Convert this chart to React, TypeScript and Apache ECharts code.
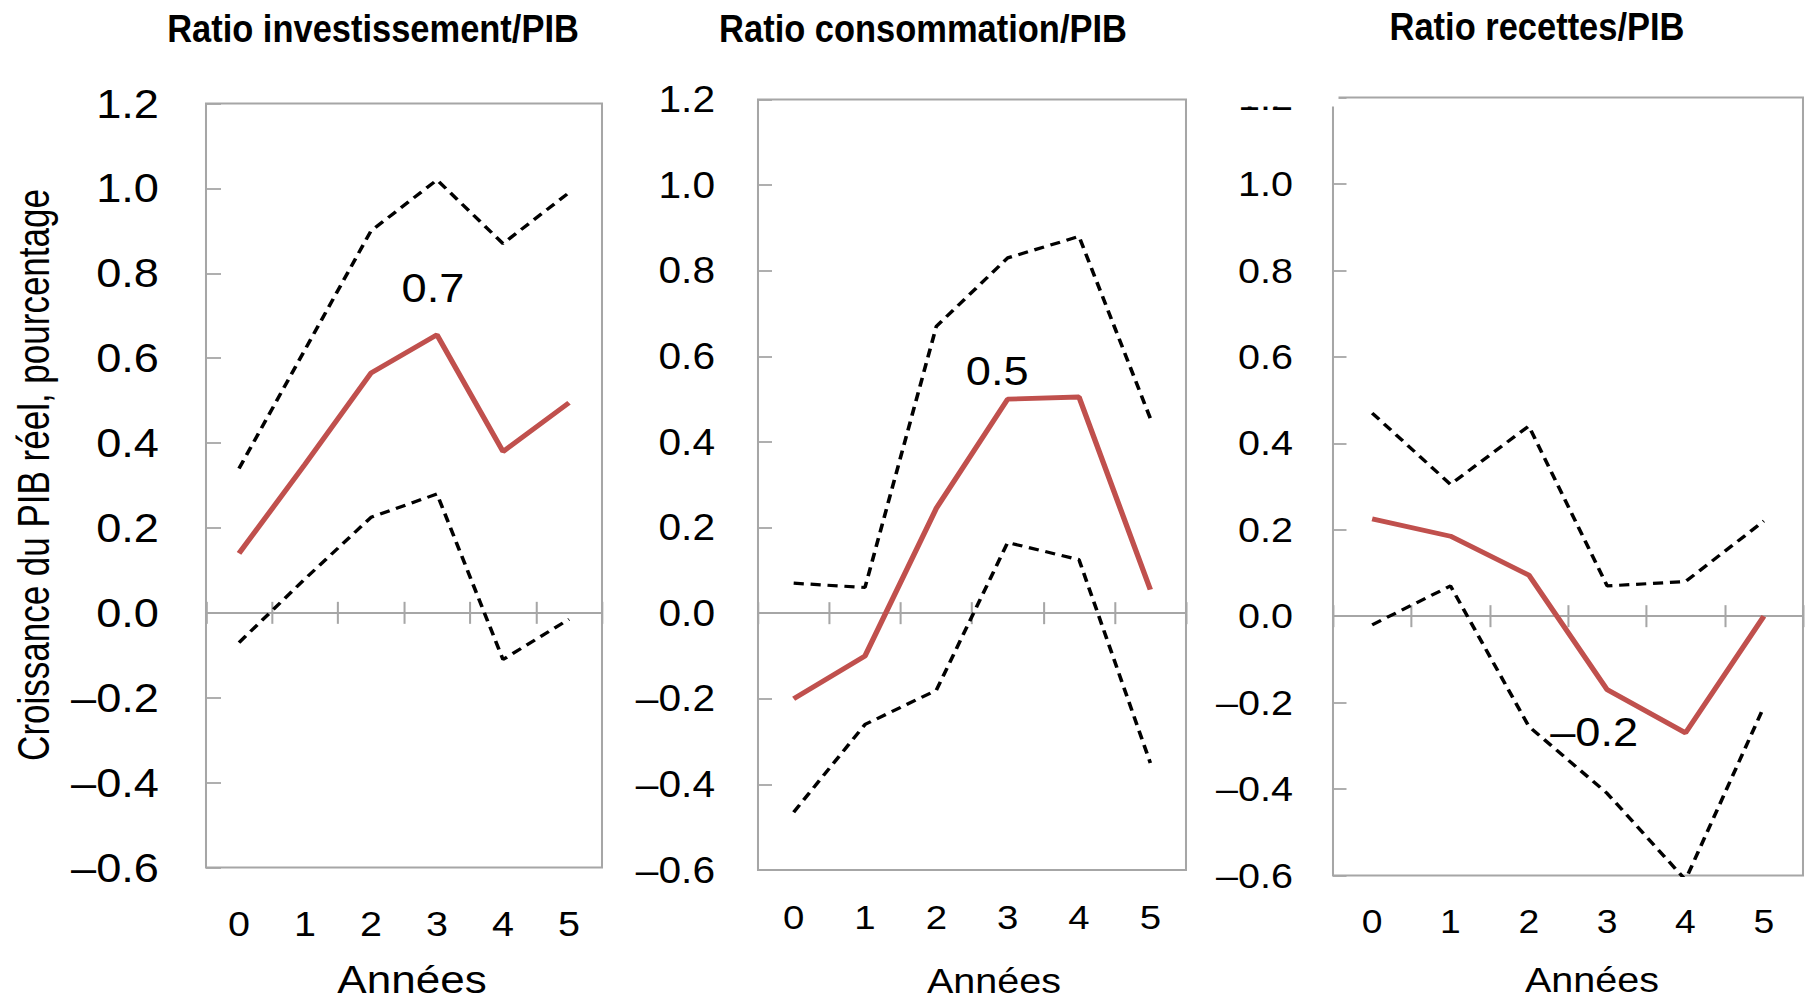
import React, { useEffect, useRef } from 'react';
import * as echarts from 'echarts';

// ---------- data ----------
const years = ['0', '1', '2', '3', '4', '5'];
const panelTitles = ['Ratio investissement/PIB', 'Ratio consommation/PIB', 'Ratio recettes/PIB'];
const yAxisTitle = 'Croissance du PIB réel, pourcentage';
const xAxisTitle = 'Années';
const yMin = -0.6;
const yMax = 1.2;
const yStep = 0.2;

const investMid = [0.14, 0.35, 0.565, 0.655, 0.38, 0.495];
const investUpper = [0.34, 0.62, 0.9, 1.02, 0.87, 0.99];
const investLower = [-0.07, 0.08, 0.225, 0.28, -0.11, -0.015];

const consoMid = [-0.2, -0.1, 0.245, 0.5, 0.505, 0.055];
const consoUpper = [0.07, 0.06, 0.67, 0.83, 0.88, 0.455];
const consoLower = [-0.465, -0.26, -0.18, 0.165, 0.125, -0.35];

const recMid = [0.225, 0.185, 0.095, -0.17, -0.27, 0.0];
const recUpper = [0.47, 0.305, 0.44, 0.07, 0.08, 0.22];
const recLower = [-0.02, 0.07, -0.255, -0.41, -0.61, -0.21];

const noteTexts = ['0.7', '0.5', '–0.2'];
const noteYears = ['3', '3', '3'];
const noteValues = [0.765, 0.566, -0.269];

const midSeries = [investMid, consoMid, recMid];
const upperSeries = [investUpper, consoUpper, recUpper];
const lowerSeries = [investLower, consoLower, recLower];

// ---------- layout / style ----------
const S = 1.13; // horizontal stretch of the picture
const W0 = Math.ceil(1806 / S);
const FONT = "'Liberation Sans', Arial, sans-serif";
const GRAY = '#a6a6a6';
const RED = '#c0504d';

const layout = [
  { left: 206, top: 103.5, width: 396, height: 764, yFont: 40, xFont: 35, yMargin: 47, xMargin: 39, tick: 15,
    titleX: 373, titleY: 28.5, nameX: 412, nameY: 979, nameFont: 39, noteDx: -4 },
  { left: 758, top: 99.5, width: 428, height: 770.5, yFont: 36, xFont: 34, yMargin: 43, xMargin: 30, tick: 14,
    titleX: 923, titleY: 28.5, nameX: 994, nameY: 981, nameFont: 35, noteDx: -10.5 },
  { left: 1333, top: 97.5, width: 470, height: 778, yFont: 35, xFont: 33, yMargin: 40, xMargin: 29, tick: 13.5,
    titleX: 1537, titleY: 26.5, nameX: 1592, nameY: 980, nameFont: 35, noteDx: -13 },
];

const fmt = (v: number) => {
  const r = Math.round(v * 10) / 10;
  if (Math.abs(r) < 1e-9) return '0.0';
  return (r < 0 ? '–' : '') + Math.abs(r).toFixed(1);
};

function buildOption() {
  const grid: any[] = [];
  const xAxis: any[] = [];
  const yAxis: any[] = [];
  const series: any[] = [];
  const graphic: any[] = [];

  layout.forEach((L, p) => {
    grid.push({
      left: L.left / S, top: L.top, width: L.width / S, height: L.height,
      show: true, borderColor: GRAY, borderWidth: 1.8, backgroundColor: 'transparent',
    });
    yAxis.push({
      gridIndex: p, type: 'value', min: yMin, max: yMax, interval: yStep,
      axisLine: { show: false },
      axisTick: { show: true, inside: true, length: L.tick / S, lineStyle: { color: GRAY, width: 1.8 } },
      axisLabel: { fontSize: L.yFont, color: '#000', fontFamily: FONT, margin: L.yMargin / S, formatter: fmt },
      splitLine: { show: false },
    });
    // zero line with downward ticks
    xAxis.push({
      gridIndex: p, type: 'category', data: years, position: 'bottom',
      axisLine: { show: true, onZero: true, onZeroAxisIndex: p, lineStyle: { color: GRAY, width: 1.8 } },
      axisTick: { show: true, inside: false, length: 11, lineStyle: { color: GRAY, width: 1.8 } },
      axisLabel: { show: false }, splitLine: { show: false },
    });
    // upward ticks on zero line
    xAxis.push({
      gridIndex: p, type: 'category', data: years, position: 'bottom',
      axisLine: { show: false, onZero: true, onZeroAxisIndex: p },
      axisTick: { show: true, inside: true, length: 11, lineStyle: { color: GRAY, width: 1.8 } },
      axisLabel: { show: false }, splitLine: { show: false },
    });
    // labels at bottom
    xAxis.push({
      gridIndex: p, type: 'category', data: years, position: 'bottom',
      axisLine: { show: false, onZero: false }, axisTick: { show: false },
      axisLabel: { show: true, fontSize: L.xFont, color: '#000', fontFamily: FONT, margin: L.xMargin },
      splitLine: { show: false },
    });

    const xi = p * 3;
    const dashed = { color: '#000', width: 3.2, type: [9, 6] };
    series.push({
      type: 'line', name: 'upper' + p, xAxisIndex: xi, yAxisIndex: p, data: upperSeries[p],
      symbol: 'none', lineStyle: dashed, z: 3,
    });
    series.push({
      type: 'line', name: 'lower' + p, xAxisIndex: xi, yAxisIndex: p, data: lowerSeries[p],
      symbol: 'none', lineStyle: dashed, z: 3,
    });
    series.push({
      type: 'line', name: 'mid' + p, xAxisIndex: xi, yAxisIndex: p, data: midSeries[p],
      symbol: 'none', lineStyle: { color: RED, width: 4.8 }, z: 4,
      markPoint: {
        symbol: 'circle', symbolSize: 1, itemStyle: { color: 'rgba(0,0,0,0)' },
        data: [{ coord: [noteYears[p], noteValues[p]], value: noteTexts[p] }],
        label: {
          show: true, position: 'inside', formatter: noteTexts[p], fontSize: 40, color: '#000',
          fontFamily: FONT, offset: [L.noteDx / S, 0],
        },
      },
    });

    graphic.push({
      type: 'text', x: L.titleX / S, y: L.titleY, scaleX: 0.782, z: 50,
      style: { text: panelTitles[p], fontSize: 39, fontWeight: 'bold', fontFamily: FONT, fill: '#000',
        textAlign: 'center', textVerticalAlign: 'middle' },
    });
    graphic.push({
      type: 'text', x: L.nameX / S, y: L.nameY, z: 50,
      style: { text: xAxisTitle, fontSize: L.nameFont, fontFamily: FONT, fill: '#000',
        textAlign: 'center', textVerticalAlign: 'middle' },
    });
  });

  graphic.push({
    type: 'text', x: 33 / S, y: 475, rotation: Math.PI / 2, scaleX: 0.875, z: 50,
    style: { text: yAxisTitle, fontSize: 40, fontFamily: FONT, fill: '#000',
      textAlign: 'center', textVerticalAlign: 'middle' },
  });
  // blank patch over the top-left corner of the third panel
  graphic.push({
    type: 'rect', z: 60,
    shape: { x: 1225 / S, y: 40, width: (1338.5 - 1225) / S, height: 66.5 },
    style: { fill: '#fff' },
  });

  return {
    animation: false,
    backgroundColor: '#fff',
    textStyle: { fontFamily: FONT },
    grid, xAxis, yAxis, series, graphic,
  };
}

export default function App() {
  const ref = useRef<HTMLDivElement>(null);
  useEffect(() => {
    document.body.style.margin = '0';
    const chart = echarts.init(ref.current as HTMLDivElement, null, { renderer: 'svg' });
    chart.setOption(buildOption() as any);
    return () => chart.dispose();
  }, []);
  return (
    <div style={{ width: 1806, height: 1002, overflow: 'hidden', position: 'relative', background: '#fff' }}>
      <div
        ref={ref}
        style={{ width: W0, height: 1002, transform: `scaleX(${S})`, transformOrigin: '0 0' }}
      />
    </div>
  );
}
